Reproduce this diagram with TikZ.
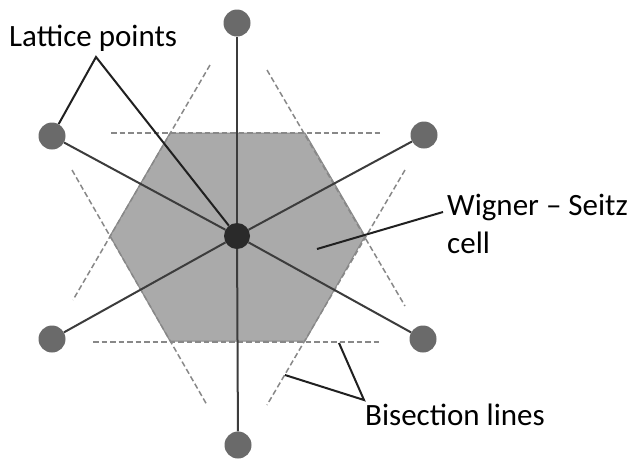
\documentclass[tikz,border=0pt]{standalone}
\usepackage{fontspec}
\setmainfont{Carlito}
\begin{document}
\begin{tikzpicture}[x=1pt,y=-1pt,
  lpoint/.style={circle,fill=outerpt,inner sep=0pt,minimum size=27pt},
  cpoint/.style={circle,fill=centerpt,inner sep=0pt,minimum size=26pt},
  spoke/.style={draw=spokecol,line width=2pt},
  bisect/.style={draw=dashcol,line width=1.5pt,dash pattern=on 5.5pt off 3pt},
  leader/.style={draw=leadcol,line width=2pt},
  lab/.style={anchor=base west,inner sep=0pt,font=\fontsize{31}{38}\selectfont,text=black}]
\definecolor{outerpt}{HTML}{6A6A6A}
\definecolor{centerpt}{HTML}{2A2A2A}
\definecolor{spokecol}{HTML}{3C3C3C}
\definecolor{dashcol}{HTML}{888888}
\definecolor{leadcol}{HTML}{202020}
\definecolor{cellfill}{HTML}{AAAAAA}
\definecolor{celledge}{HTML}{8A8A8A}
\useasboundingbox (0,0) rectangle (634,461);
\fill[white] (0,0) rectangle (634,461);
% Wigner-Seitz cell
\filldraw[fill=cellfill,draw=celledge,line width=1pt]
  (170,133) -- (305,133) -- (365,236) -- (305,341) -- (170,341) -- (110,236) -- cycle;
% bisection lines
\draw[bisect] (111,133) -- (380,133);
\draw[bisect] (93,342) -- (380,342);
\draw[bisect] (210,65) -- (73,300);
\draw[bisect] (72,170) -- (207,405);
\draw[bisect] (267,70) -- (405,306);
\draw[bisect] (405,170) -- (267,405);
% lattice points
\node[cpoint] (c) at (237,236) {};
\node[lpoint] (t) at (237,23) {};
\node[lpoint] (b) at (238,445) {};
\node[lpoint] (tl) at (52,136) {};
\node[lpoint] (tr) at (424,135) {};
\node[lpoint] (bl) at (52,339) {};
\node[lpoint] (br) at (423,339) {};
% spokes
\foreach \n in {t,b,tl,tr,bl,br} \draw[spoke] (c) -- (\n);
% labels
\node[lab] (lp) at (9,46) {Lattice points};
\node[lab] (ws) at (447,215) {Wigner – Seitz};
\node[lab] (wc) at (447,253) {cell};
\node[lab] (bs) at (365,425) {Bisection lines};
% leaders
\coordinate (lpa) at (96,57);
\draw[leader] (tl) -- (lpa) -- (c);
\coordinate (wsa) at (443,212);
\coordinate (wsb) at (317,249);
\draw[leader] (wsa) -- (wsb);
\coordinate (bsa) at (364,400);
\coordinate (bsh) at (339,343);
\coordinate (bsd) at (285,375);
\draw[leader] (bsh) -- (bsa) -- (bsd);
\end{tikzpicture}
\end{document}
